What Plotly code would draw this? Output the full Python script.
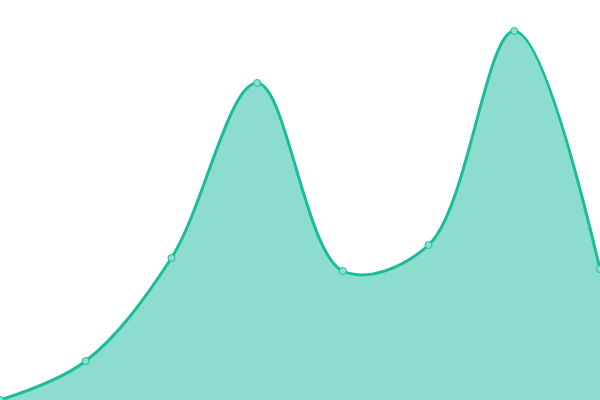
import plotly.graph_objects as go

x_vals = [0, 1, 2, 3, 4, 5, 6, 7]
y_vals = [0, 39, 142, 317, 129, 155, 369, 131]

fig = go.Figure()
fig.add_trace(go.Scatter(
    x=x_vals,
    y=y_vals,
    mode="lines+markers",
    line=dict(color="#1abc9c", width=3, shape="spline", smoothing=1),
    marker=dict(size=7, color="#8ae0cf", line=dict(color="#1abc9c", width=1)),
    fill="tozeroy",
    fillcolor="rgba(26,188,156,0.5)",
    hoverinfo="x+y",
))

fig.update_layout(
    width=600,
    height=400,
    margin={"r": 0, "t": 0, "l": 0, "b": 0},
    paper_bgcolor="white",
    plot_bgcolor="white",
    showlegend=False,
    xaxis=dict(range=[0, 7], visible=False, fixedrange=True),
    yaxis=dict(range=[0, 400], visible=False, fixedrange=True),
)

# drop the browser's default body margin so the chart fills the window
fig.write_html("out.html", config={"displayModeBar": False},
               post_script="document.body.style.margin='0';")
